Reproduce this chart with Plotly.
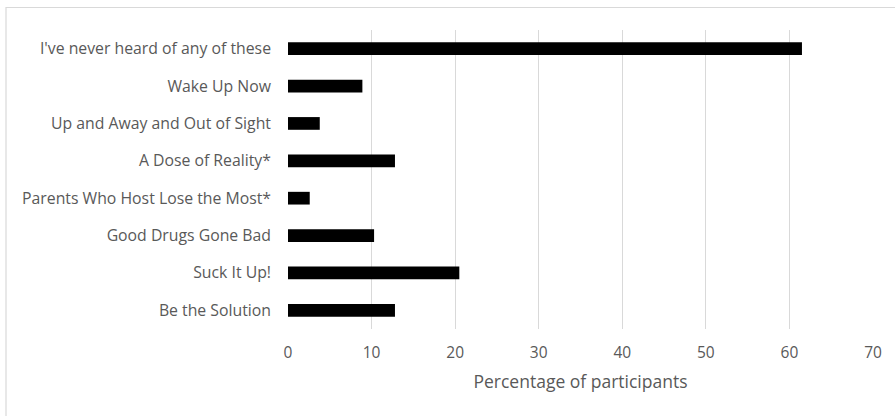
import plotly.graph_objects as go

# Campaign names, listed bottom to top as they appear on the axis
campaigns = [
    "Be the Solution",
    "Suck It Up!",
    "Good Drugs Gone Bad",
    "Parents Who Host Lose the Most*",
    "A Dose of Reality*",
    "Up and Away and Out of Sight",
    "Wake Up Now",
    "I've never heard of any of these",
]
# Share of participants who recognised each campaign (%)
percentages = [12.8, 20.5, 10.3, 2.6, 12.8, 3.8, 8.9, 61.5]

x_ticks = [0, 10, 20, 30, 40, 50, 60, 70]

text_color = "#595959"
grid_color = "#d9d9d9"
font_family = "Open Sans, Noto Sans, sans-serif"

fig = go.Figure(
    go.Bar(
        x=percentages,
        y=campaigns,
        orientation="h",
        marker=dict(color="#000000", line=dict(width=0)),
        width=0.34,
    )
)

fig.update_layout(
    width=895,
    height=416,
    margin=dict(l=288, r=22, t=30, b=87),
    paper_bgcolor="white",
    plot_bgcolor="white",
    showlegend=False,
    font=dict(family=font_family, size=15.8, color=text_color),
    bargap=0.66,
)

fig.update_xaxes(
    range=[0, 70],
    tickvals=x_ticks,
    ticktext=[str(v) for v in x_ticks],
    showgrid=True,
    gridcolor=grid_color,
    gridwidth=1,
    zeroline=False,
    showline=False,
    ticks="",
    ticklabelstandoff=12,
    tickfont=dict(size=15.5, color=text_color),
    title=dict(
        text="Percentage of participants",
        font=dict(size=17.5, color=text_color),
        standoff=14,
    ),
)

fig.update_yaxes(
    categoryorder="array",
    categoryarray=campaigns,
    range=[-0.5, len(campaigns) - 0.5],
    showgrid=False,
    zeroline=False,
    showline=False,
    ticks="",
    ticklabelstandoff=16,
    tickfont=dict(size=15.8, color=text_color),
)

# Light chart-area frame (left and top edges visible)
fig.add_shape(
    type="rect",
    xref="paper",
    yref="paper",
    x0=(6 - 288) / 585,
    x1=1.2,
    y0=-0.5,
    y1=1 + (30 - 7.5) / 299,
    line=dict(color=grid_color, width=1.2),
    fillcolor="rgba(0,0,0,0)",
    layer="below",
)

fig.write_html("out.html")
